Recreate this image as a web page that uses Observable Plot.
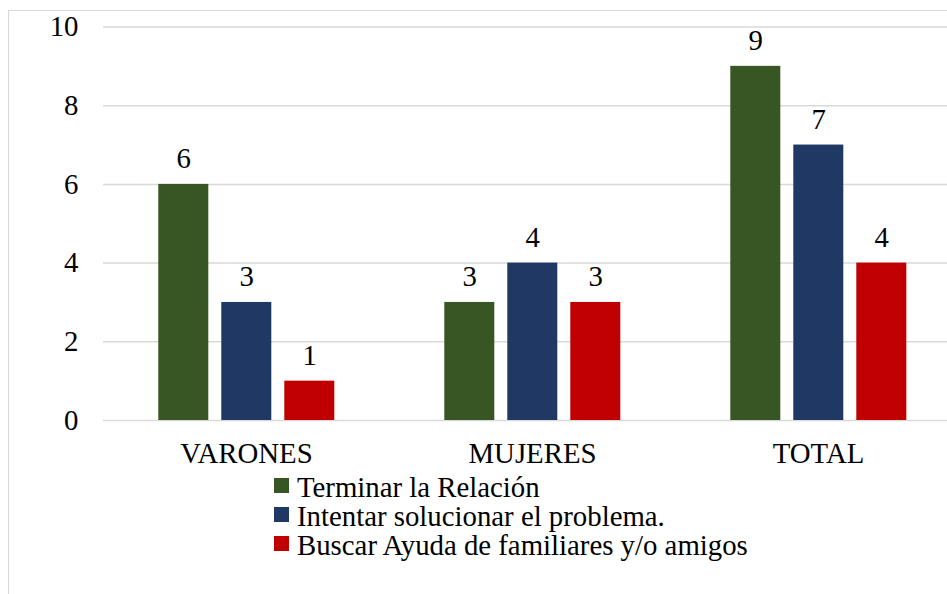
<!DOCTYPE html>
<html>
<head>
<meta charset="utf-8">
<script src="https://cdn.jsdelivr.net/npm/d3@7"></script>
<script src="https://cdn.jsdelivr.net/npm/@observablehq/plot@0.6"></script>
<style>
  html, body { margin: 0; padding: 0; background: #fff; }
  #wrap { position: relative; width: 947px; height: 594px; overflow: hidden; background: #fff; }
  #frame { position: absolute; left: 8px; top: 10px; width: 1200px; height: 1200px; border-left: 1.5px solid #d9d9d9; border-top: 1.5px solid #d9d9d9; }
  #chart { position: absolute; left: 0; top: 0; }
  .lg { position: absolute; left: 274px; line-height: 1; color: #000; white-space: nowrap; }
  .sw { position: absolute; left: 0; width: 15px; height: 15px; }
  .lt { position: absolute; left: 23px; }
</style>
</head>
<body>
<div id="wrap"><div id="frame"></div><div id="chart"></div><div id="legend"></div></div>
<script>
const categories = ["VARONES", "MUJERES", "TOTAL"];
const series = ["Terminar la Relación", "Intentar solucionar el problema.", "Buscar Ayuda de familiares y/o amigos"];
const terminar = [6, 3, 9];
const intentar = [3, 4, 7];
const buscar = [1, 3, 4];
const colors = ["#375623", "#203864", "#c00000"];
const yTicks = [0, 2, 4, 6, 8, 10];

// pick an installed serif font and size the text to the reference's text widths
const ctx = document.createElement("canvas").getContext("2d");
function w(font, s) { ctx.font = font; return ctx.measureText(s).width; }
const probe = "Terminar la Relación VARONES 0123";
const candidates = ["Liberation Serif", "Tinos", "Times New Roman", "Nimbus Roman", "DejaVu Serif", "Noto Serif"];
let family = "serif";
for (const c of candidates) {
  if (w(`26px "${c}", monospace`, probe) !== w("26px monospace", probe)) { family = c; break; }
}
const fam = `"${family}", serif`;
const s1 = 247 / w(`26px ${fam}`, "Terminar la Relación") * 26;
const s2 = 130 / w(`26px ${fam}`, "VARONES") * 26;
const fs = Math.max(20, Math.min(30, (s1 + s2) / 2));

const values = [terminar, intentar, buscar];
const data = [];
categories.forEach((g, i) => series.forEach((s, j) => data.push({group: g, serie: s, value: values[j][i]})));

const chart = Plot.plot({
  width: 962,
  height: 480,
  marginLeft: 101.7,
  marginRight: 0,
  marginTop: 26.5,
  marginBottom: 60,
  style: {fontFamily: fam, fontSize: fs + "px", color: "#000", background: "transparent"},
  fx: {domain: categories, padding: 0, label: null},
  x: {domain: series, paddingInner: 0.21, paddingOuter: 0.87, axis: null},
  y: {domain: [0, 10], label: null},
  color: {domain: series, range: colors},
  marks: [
    Plot.gridY(yTicks, {stroke: "#d9d9d9", strokeOpacity: 1, strokeWidth: 1.5}),
    Plot.axisY(yTicks, {tickSize: 0, tickPadding: 25, label: null, fontSize: fs}),
    Plot.axisFx({anchor: "bottom", tickSize: 0, tickPadding: 22, label: null, fontSize: fs}),
    Plot.barY(data, {fx: "group", x: "serie", y: "value", fill: "serie"}),
    Plot.text(data, {fx: "group", x: "serie", y: "value", text: "value", lineAnchor: "bottom", dy: -16, fontSize: fs, fill: "#000"})
  ]
});
chart.style.maxWidth = "none";
document.getElementById("chart").appendChild(chart);

const legend = document.getElementById("legend");
series.forEach((s, j) => {
  const row = document.createElement("div");
  row.className = "lg";
  row.style.top = (478 + j * 29.2) + "px";
  row.style.fontFamily = fam;
  row.style.fontSize = fs + "px";
  const sw = document.createElement("div");
  sw.className = "sw";
  sw.style.background = colors[j];
  const t = document.createElement("div");
  t.className = "lt";
  t.style.top = (-fs * 0.19) + "px";
  t.textContent = s;
  row.appendChild(sw);
  row.appendChild(t);
  legend.appendChild(row);
});
</script>
</body>
</html>
